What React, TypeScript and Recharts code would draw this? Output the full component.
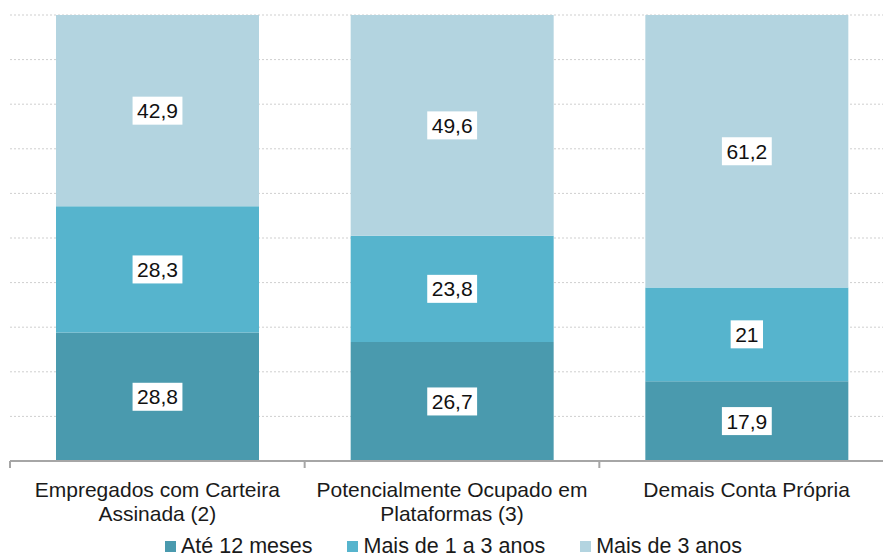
import React from 'react';
import { BarChart, Bar, XAxis, YAxis, CartesianGrid, Legend, LabelList } from 'recharts';

const categoryLines: string[][] = [
  ['Empregados com Carteira', 'Assinada (2)'],
  ['Potencialmente Ocupado em', 'Plataformas (3)'],
  ['Demais Conta Própria'],
];
const ate12meses = [28.8, 26.7, 17.9];
const de1a3anos = [28.3, 23.8, 21];
const mais3anos = [42.9, 49.6, 61.2];
const seriesNames = ['Até 12 meses', 'Mais de 1 a 3 anos', 'Mais de 3 anos'];
const seriesKeys = ['a', 'b', 'c'];
const seriesColors = ['#4A9AAE', '#56B4CD', '#B3D4E0'];
const yTicks = [0, 10, 20, 30, 40, 50, 60, 70, 80, 90, 100];

const data = categoryLines.map((lines, i) => ({
  name: lines.join(' '),
  lines,
  a: ate12meses[i],
  b: de1a3anos[i],
  c: mais3anos[i],
}));

const FONT = '"Liberation Sans", Arial, sans-serif';

const fmt = (v: number) => String(v).replace('.', ',');

const charW = (ch: string) => (ch === ',' || ch === '.' ? 0.278 : 0.556);

const BoxLabel = (props: any) => {
  const { x, y, width, height, value } = props;
  const s = fmt(value);
  const fs = 21;
  const tw = s.split('').reduce((acc, ch) => acc + charW(ch) * fs, 0);
  const bw = tw + 9;
  const bh = 28;
  const cx = x + width / 2;
  const cy = y + height / 2;
  return (
    <g>
      <rect x={cx - bw / 2} y={cy - bh / 2} width={bw} height={bh} fill="#ffffff" />
      <text x={cx} y={cy + 7.5} textAnchor="middle" fontSize={fs} fontFamily={FONT} fill="#111">
        {s}
      </text>
    </g>
  );
};

const CatTick = (props: any) => {
  const { x, y, payload, index, visibleTicksCount } = props;
  const lines = categoryLines[payload.index ?? index] || [String(payload.value)];
  const off = payload.offset ?? 147.3;
  const isLast = (payload.index ?? index) === (visibleTicksCount ?? 3) - 1;
  return (
    <g>
      <line x1={x - off} x2={x - off} y1={y - 8} y2={y - 1} stroke="#a6a6a6" strokeWidth={2} />
      {isLast && <line x1={x + off} x2={x + off} y1={y - 8} y2={y - 1} stroke="#a6a6a6" strokeWidth={2} />}
      <text x={x} y={y} textAnchor="middle" fontSize={21} fontFamily={FONT} fill="#1a1a1a">
        {lines.map((l: string, i: number) => (
          <tspan key={i} x={x} y={y + 28 + i * 24}>
            {l}
          </tspan>
        ))}
      </text>
    </g>
  );
};

const LegendContent = () => (
  <div
    style={{
      height: 35,
      display: 'flex',
      justifyContent: 'center',
      alignItems: 'flex-end',
      fontFamily: FONT,
      fontSize: 21.5,
      color: '#1a1a1a',
      paddingLeft: 3,
      boxSizing: 'border-box',
    }}
  >
    {seriesNames.map((n, i) => (
      <div key={n} style={{ display: 'flex', alignItems: 'center', marginRight: i < seriesNames.length - 1 ? 35 : 0, height: 24, marginBottom: -2 }}>
        <span style={{ display: 'inline-block', width: 11, height: 11, background: seriesColors[i], marginRight: 5 }} />
        <span>{n}</span>
      </div>
    ))}
  </div>
);

export default function App() {
  return (
    <div style={{ position: 'absolute', left: 0, top: 0, width: 883, height: 556, overflow: 'hidden', background: '#fff' }}>
      <BarChart
        width={900}
        height={556}
        data={data}
        margin={{ top: 15, right: 6, left: 10, bottom: 0 }}
        barSize={203}
      >
        <CartesianGrid vertical={false} stroke="#cfcfcf" strokeDasharray="2 2" />
        <YAxis hide domain={[0, 100]} ticks={yTicks} allowDataOverflow type="number" />
        <XAxis
          dataKey="name"
          height={60}
          axisLine={{ stroke: '#a6a6a6', strokeWidth: 2 }}
          tickLine={false}
          tick={<CatTick />}
          interval={0}
        />
        <Legend verticalAlign="bottom" content={<LegendContent />} />
        {seriesKeys.map((k, i) => (
          <Bar key={k} dataKey={k} name={seriesNames[i]} stackId="s" fill={seriesColors[i]} isAnimationActive={false}>
            <LabelList dataKey={k} content={<BoxLabel />} />
          </Bar>
        ))}
      </BarChart>
    </div>
  );
}
